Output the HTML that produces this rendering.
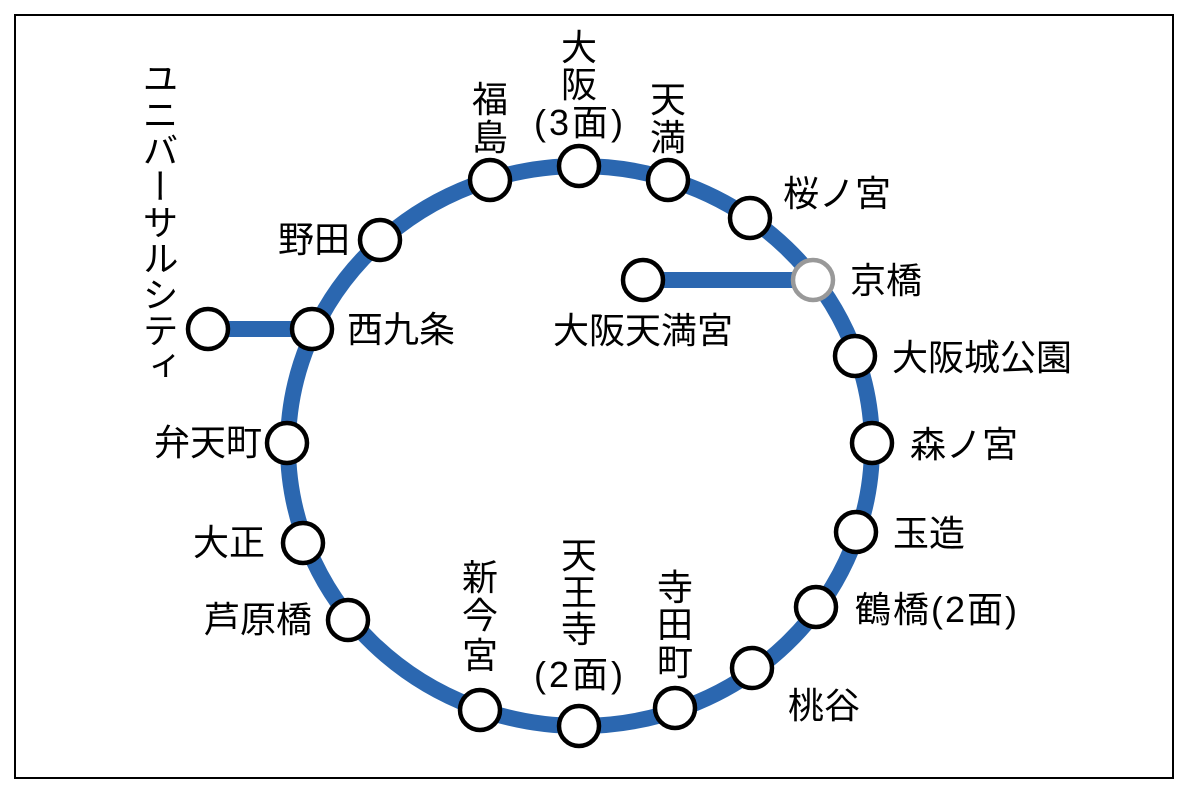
<!DOCTYPE html>
<html><head><meta charset="utf-8"><style>
html,body{margin:0;padding:0;background:#fff;}
svg{display:block;}
text{font-family:"Liberation Sans","Noto Sans CJK JP",sans-serif;font-size:36px;fill:#000;}
</style></head><body>
<svg width="1190" height="796" viewBox="0 0 1190 796">
<rect x="15" y="15" width="1158" height="763" fill="#fff" stroke="#000" stroke-width="2"/>
<ellipse cx="580" cy="446" rx="292" ry="280" fill="none" stroke="#2b67b0" stroke-width="16"/>
<line x1="208" y1="329" x2="312" y2="329" stroke="#2b67b0" stroke-width="16"/>
<line x1="643" y1="280" x2="813" y2="280" stroke="#2b67b0" stroke-width="16"/>
<g fill="#fff" stroke="#000" stroke-width="4.5">
<circle cx="490" cy="180" r="20"/><circle cx="579" cy="166" r="20"/><circle cx="668" cy="180" r="20"/>
<circle cx="750" cy="218" r="20"/><circle cx="855" cy="356" r="20"/><circle cx="872" cy="443" r="20"/>
<circle cx="856" cy="532" r="20"/><circle cx="816" cy="607" r="20"/><circle cx="752" cy="668" r="20"/>
<circle cx="675" cy="708" r="20"/><circle cx="579" cy="726" r="20"/><circle cx="480" cy="710" r="20"/>
<circle cx="348" cy="620" r="20"/><circle cx="303" cy="543" r="20"/><circle cx="287" cy="443" r="20"/>
<circle cx="312" cy="329" r="20"/><circle cx="380" cy="240" r="20"/><circle cx="208" cy="329" r="20"/>
<circle cx="643" cy="280" r="20"/>
</g>
<circle cx="813" cy="280" r="20" fill="#fff" stroke="#999" stroke-width="4.5"/>
<g text-anchor="middle">
<text x="490" y="112">福</text><text x="490" y="150">島</text>
<text x="579" y="60">大</text><text x="579" y="97">阪</text><text x="580" y="135" letter-spacing="3">(3面)</text>
<text x="668" y="112">天</text><text x="668" y="150">満</text>
<text x="643" y="343">大阪天満宮</text>
<text x="675" y="600">寺</text><text x="675" y="637">田</text><text x="675" y="675">町</text>
<text x="579" y="568">天</text><text x="579" y="605">王</text><text x="579" y="642">寺</text><text x="580" y="687" letter-spacing="3">(2面)</text>
<text x="480" y="590">新</text><text x="480" y="628">今</text><text x="480" y="668">宮</text>
</g>
<text x="783" y="206">桜ノ宮</text>
<text x="850" y="293">京橋</text>
<text x="892" y="370">大阪城公園</text>
<text x="910" y="457">森ノ宮</text>
<text x="893" y="546">玉造</text>
<text x="855" y="622" letter-spacing="2">鶴橋(2面)</text>
<text x="788" y="718">桃谷</text>
<g text-anchor="end">
<text x="312" y="632">芦原橋</text>
<text x="265" y="555">大正</text>
<text x="262" y="455">弁天町</text>
<text x="350" y="252">野田</text>
</g>
<text x="347" y="342">西九条</text>
<text x="158" y="60" style="writing-mode:vertical-rl;glyph-orientation-vertical:0" text-anchor="start">ユニバーサルシティ</text>
</svg>
</body></html>
